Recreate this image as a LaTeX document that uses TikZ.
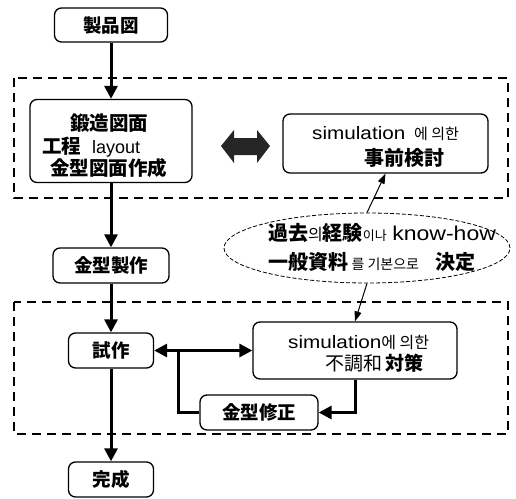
\documentclass[tikz,border=0pt]{standalone}
\usepackage{fontspec}
\setmainfont{Liberation Sans}
\newfontfamily\lat{Liberation Sans}[FakeStretch=1.15]
\newfontfamily\cjk{Noto Sans CJK JP}
\newfontfamily\kr{Noto Sans CJK KR}
\usetikzlibrary{arrows.meta,shapes.geometric}
\newcommand{\jb}{\cjk\bfseries}
\newcommand{\fs}[2]{\fontsize{#1}{#2}\selectfont}
\begin{document}
\begin{tikzpicture}[x=1pt,y=-1pt,
  box/.style={draw, line width=1.3pt, rounded corners=7pt, inner sep=0pt},
  txt/.style={anchor=base west, inner sep=0pt},
  flow/.style={line width=3pt, -{Triangle[length=13pt,width=13pt]}},
  flowboth/.style={line width=3pt, {Triangle[length=13pt,width=13pt]}-{Triangle[length=13pt,width=13pt]}},
  plain/.style={line width=3pt},
  region/.style={line width=2.2pt, dash pattern=on 9pt off 6pt},
  thinarrow/.style={line width=1pt, -{Triangle[length=10pt,width=7pt]}},
  bubble/.style={draw, ellipse, line width=0.8pt, dash pattern=on 4pt off 2pt, inner sep=0pt}
]
\useasboundingbox (0,0) rectangle (516,498);
% dashed regions
\draw[region] (14,78) rectangle (508,198);
\draw[region] (14,302) rectangle (508,434);
% nodes
\node[box, minimum width=113pt, minimum height=34pt, font=\jb\fs{18.5}{22}] (a) at (111,25) {製品図};
\node[box, minimum width=162pt, minimum height=83pt] (b) at (111,141) {};
\node[txt, font=\jb\fs{19.5}{22}] (b1) at (70,130) {鍛造図面};
\node[txt, font=\fs{19.5}{22}] (b2) at (42,153) {{\jb 工程}\ \ {\fs{18}{22}layout}};
\node[txt, font=\jb\fs{19.5}{22}] (b3) at (50,175) {金型図面作成};
\node[box, minimum width=205pt, minimum height=59pt] (s1) at (385.5,143.5) {};
\node[txt, font=\lat\fs{18}{22}] (s1a) at (312,139) {simulation\ \,{\kr\fs{15}{22}에 의한}};
\node[txt, font=\jb\fs{20}{22}] (s1b) at (364,165) {事前検討};
\node[box, minimum width=116pt, minimum height=35pt, font=\jb\fs{18.5}{22}] (c) at (111,265.5) {金型製作};
\node[box, minimum width=85pt, minimum height=35pt, font=\jb\fs{18.5}{22}] (d) at (111,350.5) {試作};
\node[box, minimum width=204pt, minimum height=57pt] (s2) at (355,350.5) {};
\node[txt, font=\lat\fs{18}{22}] (s2a) at (288,348) {simulation{\kr\fs{16}{22}에 의한}};
\node[txt, font=\fs{19}{22}] (s2b) at (325,370) {{\cjk 不調和}\,{\jb 対策}};
\node[box, minimum width=118pt, minimum height=35pt, font=\jb\fs{18.5}{22}] (g) at (259,412.5) {金型修正};
\node[box, minimum width=85pt, minimum height=35pt, font=\jb\fs{18.5}{22}] (f) at (111,479.5) {完成};
% ellipse
\node[bubble, minimum width=286pt, minimum height=70pt] (e) at (367,248) {};
\node[txt, font=\fs{20}{22}] (e1) at (268,240)
  {{\jb 過去}{\kr\fs{16}{22}의}{\jb 経験}{\kr\fs{13}{22}이나}\ {\lat\fs{20}{22}know-how}};
\node[txt, font=\fs{20}{22}] (e2) at (268,269)
  {{\jb 一般資料}\,{\kr\fs{14}{22}를 기본으로}\ \ \ {\jb 決定}};
% fat double arrow
\fill[black!85] (221,146) -- (234,130) -- (234,138) -- (257,138) -- (257,130) -- (270,146)
  -- (257,163) -- (257,155) -- (234,155) -- (234,163) -- cycle;
% connectors
\draw[flow] (a) -- (b);
\draw[flow] (b) -- (c);
\draw[flow] (c) -- (d);
\draw[flow] (d) -- (f);
\draw[flowboth] (d) -- (s2);
\coordinate (j) at (178,350.5);
\draw[plain] (j) |- (g.west);
\draw[flow] (s2.south) |- (g.east);
\draw[thinarrow] (e.north) -- (s1.south);
\draw[thinarrow] (e.south) -- (s2.north);
\end{tikzpicture}
\end{document}
